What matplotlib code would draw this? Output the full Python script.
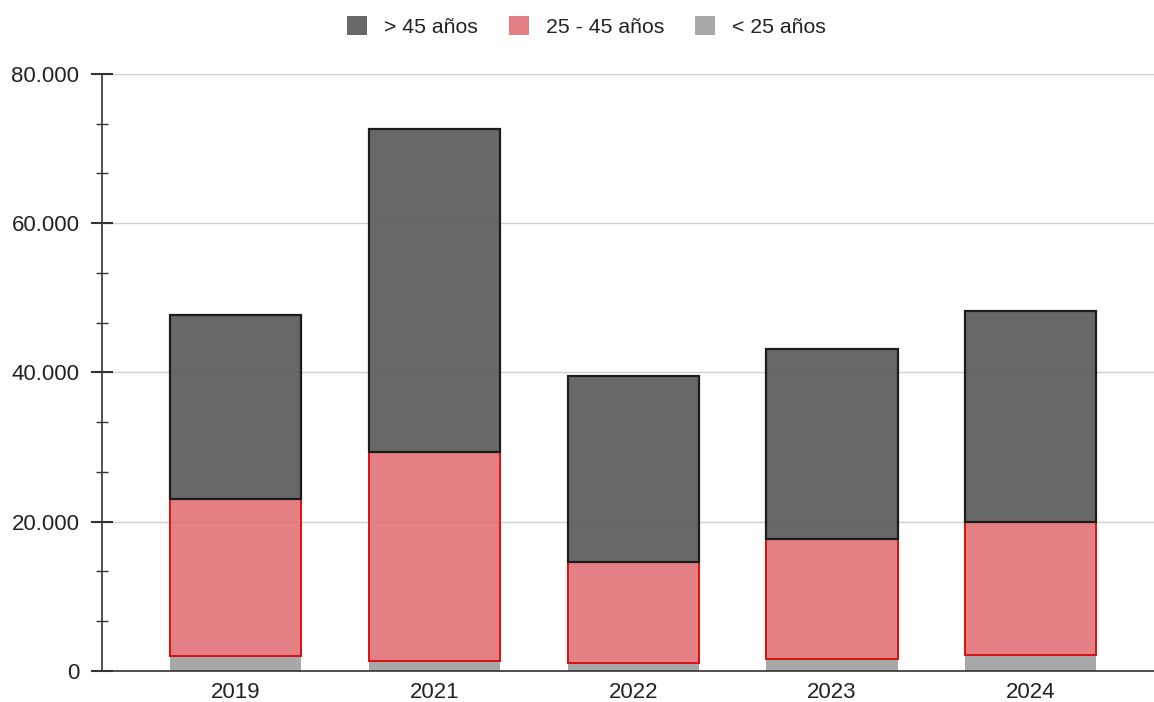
import matplotlib
matplotlib.use("Agg")
import matplotlib.pyplot as plt
from matplotlib.ticker import FuncFormatter, MultipleLocator
from matplotlib.patches import Patch
import numpy as np

plt.rcParams['font.family'] = ['Liberation Sans', 'DejaVu Sans']

years = ["2019", "2021", "2022", "2023", "2024"]
menos25 = [2050, 1350, 1050, 1650, 2100]
de25a45 = [21050, 28050, 13500, 16050, 17850]
mas45 = [24600, 43200, 24950, 25450, 28300]
series_labels = ["> 45 años", "25 - 45 años", "< 25 años"]

fig = plt.figure(figsize=(11.54, 7.02), dpi=100)
ax = fig.add_axes([0.0884, 0.0442, 0.9116, 0.8504])

x = np.arange(len(years))
w = 0.66
a = 0.9
c_low = (0.624, 0.624, 0.624, a)
c_mid = (0.886, 0.443, 0.467, a)
c_high = (0.345, 0.345, 0.345, a)

low = np.array(menos25)
mid = np.array(de25a45)
high = np.array(mas45)

ax.bar(x, low, w, color=c_low, edgecolor='none', zorder=2)
ax.bar(x, mid, w, bottom=low, color=c_mid, edgecolor='#d81010', linewidth=1.4, zorder=3)
ax.bar(x, high, w, bottom=low + mid, color=c_high, edgecolor='#1c1c1c', linewidth=1.6, zorder=4)

ax.set_xlim(-0.673, 4.62)
ax.set_ylim(0, 80000)
ax.set_xticks(x)
ax.set_xticklabels(years)
ax.yaxis.set_major_locator(MultipleLocator(20000))
ax.yaxis.set_minor_locator(MultipleLocator(20000 / 3))
ax.yaxis.set_major_formatter(FuncFormatter(lambda v, p: f"{int(v):,}".replace(",", ".")))
ax.grid(axis='y', color='#cfcfcf', linewidth=1.0, zorder=0)
ax.set_axisbelow(True)

for s in ['top', 'right']:
    ax.spines[s].set_visible(False)
ax.spines['left'].set_color('#333333')
ax.spines['bottom'].set_color('#333333')
ax.spines['left'].set_linewidth(1.2)
ax.spines['bottom'].set_linewidth(1.2)

ax.tick_params(axis='x', length=0, labelsize=16, pad=8, colors='#222222')
ax.tick_params(axis='y', which='major', direction='inout', length=15.5, width=1.5,
               labelsize=16, pad=8.5, colors='#333333', labelcolor='#222222')
ax.tick_params(axis='y', which='minor', direction='inout', length=8, width=1.0, colors='#333333')

handles = [Patch(facecolor=(0.345, 0.345, 0.345, a), edgecolor='none'),
           Patch(facecolor=(0.886, 0.443, 0.467, a), edgecolor='none'),
           Patch(facecolor=(0.624, 0.624, 0.624, a), edgecolor='none')]
fig.legend(handles, series_labels, loc='center', bbox_to_anchor=(0.508, 0.962), ncol=3,
           frameon=False, fontsize=15.3, handlelength=0.94, handleheight=0.94,
           handletextpad=0.8, columnspacing=1.45, labelcolor='#222222')

fig.savefig("out.png", dpi=100)
